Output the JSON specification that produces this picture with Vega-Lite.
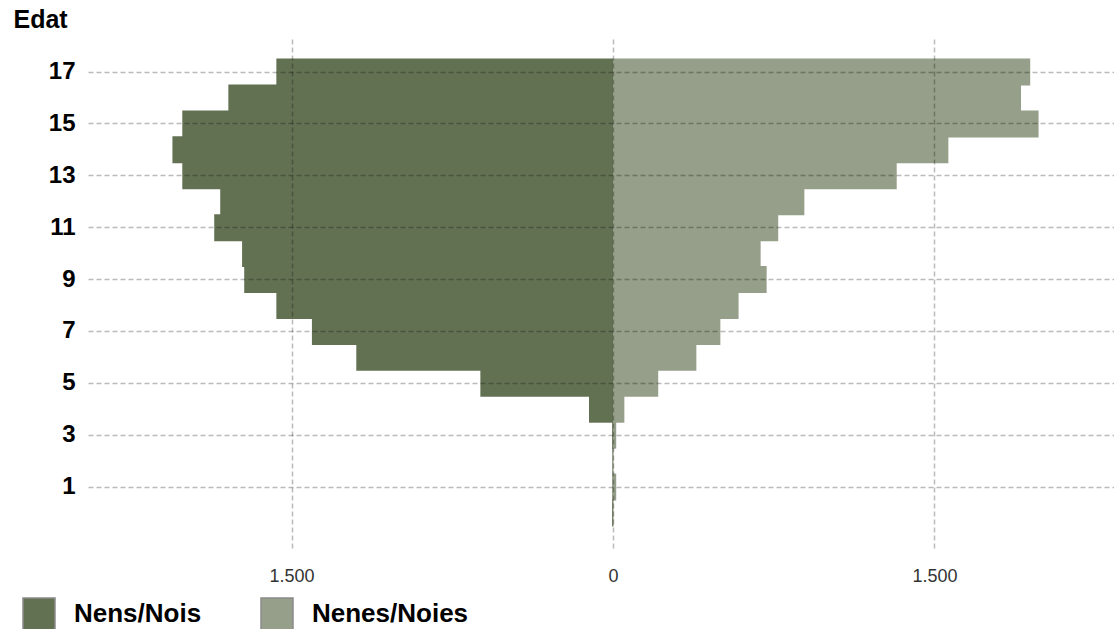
{
  "$schema": "https://vega.github.io/schema/vega-lite/v6.json",
  "autosize": "none",
  "padding": {"left": 88, "top": 37, "right": 0, "bottom": 81},
  "width": 1026,
  "height": 511,
  "background": "white",
  "config": {"view": {"stroke": null}, "font": "Liberation Sans"},
  "data": {"values": [
    {"edat": 0, "sexe": "Nens/Nois", "valor": -4},
    {"edat": 1, "sexe": "Nens/Nois", "valor": -3},
    {"edat": 2, "sexe": "Nens/Nois", "valor": -3},
    {"edat": 3, "sexe": "Nens/Nois", "valor": -4},
    {"edat": 4, "sexe": "Nens/Nois", "valor": -112},
    {"edat": 5, "sexe": "Nens/Nois", "valor": -619},
    {"edat": 6, "sexe": "Nens/Nois", "valor": -1198},
    {"edat": 7, "sexe": "Nens/Nois", "valor": -1405},
    {"edat": 8, "sexe": "Nens/Nois", "valor": -1571},
    {"edat": 9, "sexe": "Nens/Nois", "valor": -1721},
    {"edat": 10, "sexe": "Nens/Nois", "valor": -1731},
    {"edat": 11, "sexe": "Nens/Nois", "valor": -1861},
    {"edat": 12, "sexe": "Nens/Nois", "valor": -1833},
    {"edat": 13, "sexe": "Nens/Nois", "valor": -2010},
    {"edat": 14, "sexe": "Nens/Nois", "valor": -2056},
    {"edat": 15, "sexe": "Nens/Nois", "valor": -2010},
    {"edat": 16, "sexe": "Nens/Nois", "valor": -1795},
    {"edat": 17, "sexe": "Nens/Nois", "valor": -1571},
    {"edat": 0, "sexe": "Nenes/Noies", "valor": 3},
    {"edat": 1, "sexe": "Nenes/Noies", "valor": 15},
    {"edat": 2, "sexe": "Nenes/Noies", "valor": 3},
    {"edat": 3, "sexe": "Nenes/Noies", "valor": 15},
    {"edat": 4, "sexe": "Nenes/Noies", "valor": 53},
    {"edat": 5, "sexe": "Nenes/Noies", "valor": 211},
    {"edat": 6, "sexe": "Nenes/Noies", "valor": 389},
    {"edat": 7, "sexe": "Nenes/Noies", "valor": 501},
    {"edat": 8, "sexe": "Nenes/Noies", "valor": 586},
    {"edat": 9, "sexe": "Nenes/Noies", "valor": 717},
    {"edat": 10, "sexe": "Nenes/Noies", "valor": 689},
    {"edat": 11, "sexe": "Nenes/Noies", "valor": 771},
    {"edat": 12, "sexe": "Nenes/Noies", "valor": 893},
    {"edat": 13, "sexe": "Nenes/Noies", "valor": 1324},
    {"edat": 14, "sexe": "Nenes/Noies", "valor": 1565},
    {"edat": 15, "sexe": "Nenes/Noies", "valor": 1986},
    {"edat": 16, "sexe": "Nenes/Noies", "valor": 1904},
    {"edat": 17, "sexe": "Nenes/Noies", "valor": 1947}
  ]},
  "mark": {"type": "bar", "height": {"band": 1.04}},
  "encoding": {
    "y": {
      "field": "edat",
      "type": "ordinal",
      "sort": "descending",
      "scale": {"paddingInner": 0, "paddingOuter": 0.85},
      "axis": {
        "title": "Edat",
        "titleAngle": 0,
        "titleAlign": "left",
        "titleBaseline": "alphabetic",
        "titleX": -75,
        "titleY": -10,
        "titleFontSize": 25,
        "titleFontWeight": "bold",
        "titleColor": "#000",
        "values": [1, 3, 5, 7, 9, 11, 13, 15, 17],
        "labelFontSize": 24,
        "labelFontWeight": "bold",
        "labelColor": "#000",
        "labelPadding": 13,
        "ticks": false,
        "tickSize": 0,
        "domain": false,
        "grid": true,
        "bandPosition": 0.5,
        "gridColor": "#000",
        "gridOpacity": 0.27,
        "gridWidth": 1.5,
        "gridDash": [5, 3],
        "zindex": 1
      }
    },
    "x": {
      "field": "valor",
      "type": "quantitative",
      "scale": {"domain": [-2450, 2338], "nice": false, "zero": false},
      "axis": {
        "title": null,
        "values": [-1500, 0, 1500],
        "labelExpr": "datum.value == 0 ? '0' : replace(format(abs(datum.value), ','), ',', '.')",
        "labelFontSize": 18,
        "labelColor": "#333",
        "labelPadding": 19,
        "ticks": false,
        "tickSize": 0,
        "domain": false,
        "grid": true,
        "gridColor": "#000",
        "gridOpacity": 0.27,
        "gridWidth": 1.5,
        "gridDash": [5, 3],
        "zindex": 1
      }
    },
    "color": {
      "field": "sexe",
      "type": "nominal",
      "scale": {"domain": ["Nens/Nois", "Nenes/Noies"], "range": ["#637153", "#969f89"]},
      "legend": {
        "title": null,
        "orient": "none",
        "legendX": -66,
        "legendY": 560,
        "direction": "horizontal",
        "padding": 0,
        "symbolType": "square",
        "symbolSize": 1024,
        "symbolStrokeColor": "#8a8a8a",
        "symbolStrokeWidth": 1.5,
        "symbolOpacity": 1,
        "labelFontSize": 26,
        "labelFontWeight": "bold",
        "labelColor": "#000",
        "labelOffset": 18,
        "labelLimit": 300,
        "columnPadding": 56
      }
    }
  }
}
